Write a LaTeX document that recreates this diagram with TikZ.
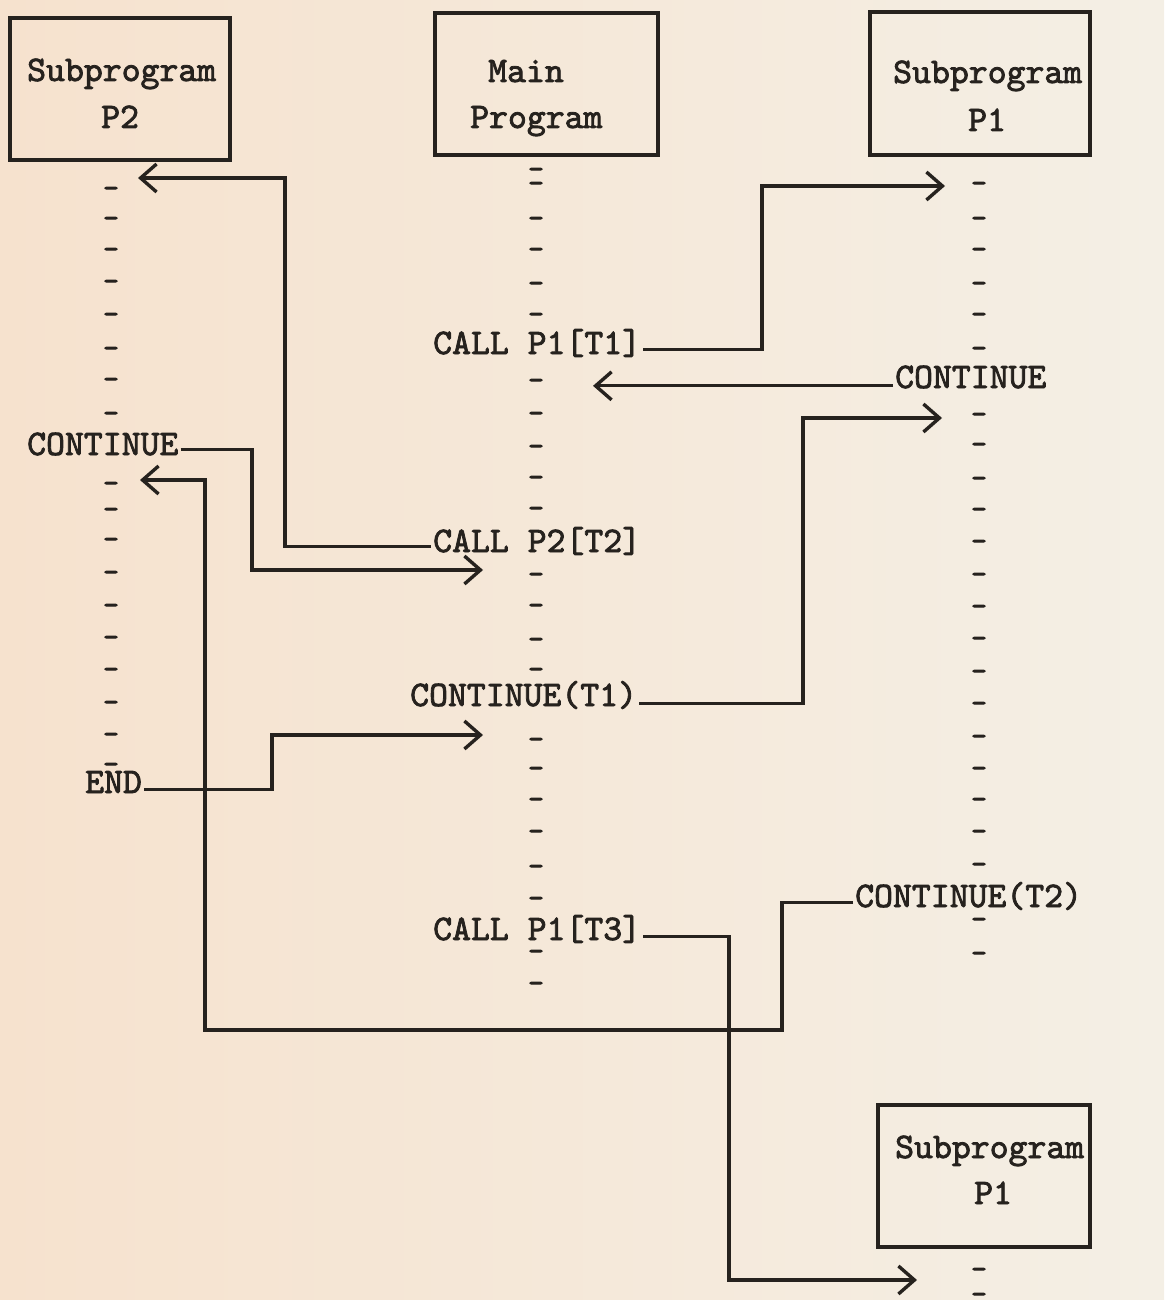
\documentclass[tikz,border=0pt]{standalone}
\usepackage{fontspec}
\setmonofont{lmmono10-regular.otf}[FakeBold=2.2]
\newfontfamily\dashfont{lmmono10-regular.otf}[FakeBold=4]
\usetikzlibrary{arrows.meta}
\definecolor{ink}{RGB}{38,34,30}
\definecolor{bgL}{RGB}{246,226,206}
\definecolor{bgR}{RGB}{244,239,229}
\begin{document}
\begin{tikzpicture}[x=1pt,y=-1pt,
  txt/.style={font=\fontsize{36}{40}\selectfont\ttfamily, text=ink, inner sep=0pt, inner xsep=2pt, anchor=base west},
  dm/.style={font=\fontsize{29}{32}\selectfont\dashfont, text=ink, inner sep=0pt, anchor=base},
  box/.style={draw=ink, line width=3.4pt, rectangle, inner sep=0pt},
  conn/.style={draw=ink, line width=3.1pt, line join=miter},
  arr/.style={conn, -{Straight Barb[length=16pt,width=28pt,line width=3.4pt]}}
]
\useasboundingbox (0,0) rectangle (1164,1300);
\shade[left color=bgL, right color=bgR] (0,0) rectangle (1164,1300);

% boxes
\node[box, minimum width=220pt, minimum height=142pt] (p2box) at (120,89) {};
\node[box, minimum width=223pt, minimum height=142pt] (mainbox) at (546.5,84) {};
\node[box, minimum width=220pt, minimum height=143pt] (p1box) at (980,83.5) {};
\node[box, minimum width=212pt, minimum height=142pt] (p1boxb) at (984,1176) {};

% box labels
\node[txt] (p2a) at (25,81) {Subprogram};
\node[txt] (p2b) at (99,128) {P2};
\node[txt] (mna) at (486,82) {Main};
\node[txt] (mnb) at (468,128) {Program};
\node[txt] (p1a) at (891,83) {Subprogram};
\node[txt] (p1b) at (966,131) {P1};
\node[txt] (p1c) at (893,1158) {Subprogram};
\node[txt] (p1d) at (972,1204) {P1};

% statements
\node[txt] (call1) at (431,354) {CALL P1[T1]};
\node[txt] (cont1) at (893,388) {CONTINUE};
\node[txt] (cont2) at (25,455) {CONTINUE};
\node[txt] (call2) at (431,552) {CALL P2[T2]};
\node[txt] (cont3) at (408,706) {CONTINUE(T1)};
\node[txt] (endn) at (83,793) {END};
\node[txt] (cont4) at (853,907) {CONTINUE(T2)};
\node[txt] (call3) at (431,940) {CALL P1[T3]};

% dash columns
\foreach \y [count=\i] in {187,217,248,280,313,347,378,412,482,508,538,571,604,636,668,701,733,763}
  \node[dm] (a\i) at (111,\y+10) {-};
\foreach \y [count=\i] in {168,182,217,248,282,313,379,412,445,476,507,573,604,638,668,738,767,798,830,865,897,950,982}
  \node[dm] (m\i) at (536,\y+10) {-};
\foreach \y [count=\i] in {182,217,248,282,313,347,413,443,477,508,540,573,605,637,670,702,735,767,798,830,863,918,952,1268,1293}
  \node[dm] (s\i) at (979,\y+10) {-};

% arrow tips
\coordinate (t1) at (945,186);
\coordinate (t2) at (593,380);
\coordinate (t3) at (138,178);
\coordinate (t4) at (483,570);
\coordinate (t5) at (942,418);
\coordinate (t6) at (483,735);
\coordinate (t7) at (917,1280);
\coordinate (t8) at (140,480);

% connectors
\draw[arr] ([yshift=2pt]call1.mid east) -| (762,186) -- (t1);
\draw[arr] (cont1.mid west) -- (cont1.mid west -| t2);
\draw[arr] ([yshift=3pt]call2.mid west) -| (285,178) -- (t3);
\draw[arr] ([yshift=3pt]cont2.mid east) -| (252,570) -- (t4);
\draw[arr] (cont3.mid east) -| (803,418) -- (t5);
\draw[arr] ([yshift=1pt]endn.mid east) -| (272,735) -- (t6);
\draw[arr] ([yshift=1pt]call3.mid east) -| (729,1280) -- (t7);
\draw[arr] ([yshift=2pt]cont4.mid west) -| (782,1030) -| (205,480) -- (t8);
\end{tikzpicture}
\end{document}
